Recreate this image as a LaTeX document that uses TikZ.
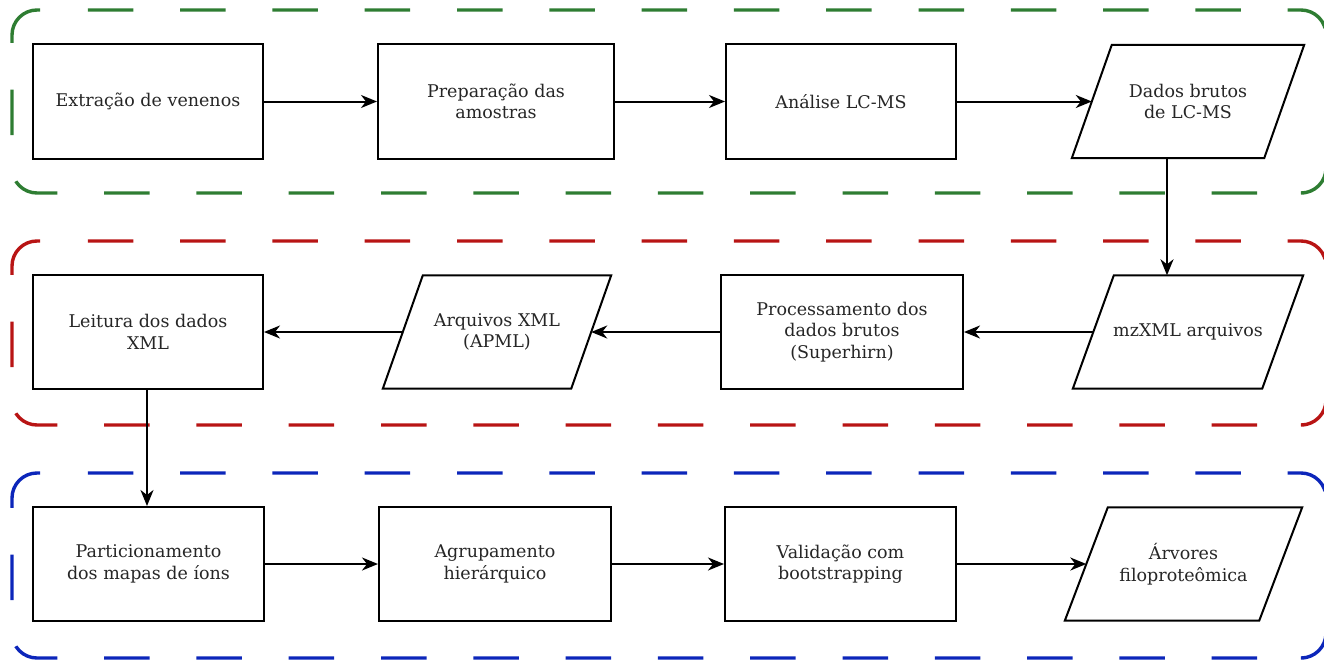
\documentclass[tikz,border=0pt]{standalone}
\usepackage{fontspec}
\setmainfont{DejaVu Serif}
\usetikzlibrary{arrows.meta,calc}
\definecolor{fgreen}{RGB}{46,125,50}
\definecolor{fred}{RGB}{184,20,20}
\definecolor{fblue}{RGB}{12,38,186}
\newcommand{\drawpara}[2]{\draw[shapeline] ($(#1.north west)+(#2,0)$) -- (#1.north east) -- ($(#1.south east)-(#2,0)$) -- (#1.south west) -- cycle;}
% dashed frame: #1 colour, #2 top, #3 bottom
\newcommand{\dframe}[3]{%
  \draw[framebase, #1, framedash] (1304,#3) -- (12,#3) -- (12,#2+33);
  \draw[framebase, #1] (12,#2+33) -- (12,#2) -- (40,#2);
  \draw[framebase, #1, framedash] (41,#2) -- (1326,#2) -- (1326,#2+60);
  \draw[framebase, #1] (1326,#3-40) -- (1326,#3) -- (1304,#3);
}
\begin{document}
\begin{tikzpicture}[x=1pt,y=-1pt,
  shapeline/.style={line width=2pt, black},
  txt/.style={align=center, inner sep=0pt, font=\fontsize{17.5}{21.5}\selectfont, text=black!85},
  box/.style={txt, draw=black, line width=2pt, minimum height=114pt},
  para/.style={txt, minimum height=113pt},
  arr/.style={line width=2pt, -{Stealth[length=16pt,width=13pt,inset=5pt]}},
  framebase/.style={line width=3.4pt, rounded corners=25pt},
  framedash/.style={dash pattern=on 45.5pt off 46.8pt, dash phase=45.5pt}
]
\useasboundingbox (0,0) rectangle (1324,661);
% frames
\dframe{fgreen}{10}{193}
\dframe{fred}{241}{425}
\dframe{fblue}{473}{658}
% row 1
\node[box, minimum width=230pt] (b1) at (148,101.5) {Extração de venenos};
\node[box, minimum width=236pt] (b2) at (496,101.5) {Preparação das\\amostras};
\node[box, minimum width=230pt] (b3) at (841,101.5) {Análise LC-MS};
\node[para, minimum width=232pt] (p1) at (1188,101.5) {Dados brutos\\de LC-MS};
\drawpara{p1}{40}
% row 2
\node[box, minimum width=230pt] (c1) at (148,332) {Leitura dos dados\\XML};
\node[para, minimum width=228pt] (q2) at (497,332) {Arquivos XML\\(APML)};
\drawpara{q2}{40}
\node[box, minimum width=242pt] (c3) at (842,332) {Processamento dos\\dados brutos\\(Superhirn)};
\node[para, minimum width=230pt] (q4) at (1188,332) {mzXML arquivos};
\drawpara{q4}{41}
% row 3
\node[box, minimum width=231pt] (d1) at (148.5,564) {Particionamento\\dos mapas de íons};
\node[box, minimum width=232pt] (d2) at (495,564) {Agrupamento\\hierárquico};
\node[box, minimum width=231pt] (d3) at (840.5,564) {Validação com\\bootstrapping};
\node[para, minimum width=237pt] (r4) at (1183.5,564) {Árvores\\filoproteômica};
\drawpara{r4}{43}
% connector end points on slanted edges
\coordinate (p1in) at ($(p1.west)+(20,0)$);
\coordinate (p1out) at ($(p1.south)-(21,0)$);
\coordinate (q4l) at ($(q4.west)+(20.5,0)$);
\coordinate (q2r) at ($(q2.east)-(20,0)$);
\coordinate (q2l) at ($(q2.west)+(20,0)$);
\coordinate (c1out) at ($(c1.south)-(1,0)$);
\coordinate (r4in) at ($(r4.west)+(21.5,0)$);
% connectors
\draw[arr] (b1.east) -- (b2.west);
\draw[arr] (b2.east) -- (b3.west);
\draw[arr] (b3.east) -- (p1in);
\draw[arr] (p1out) -- (p1out |- q4.north);
\draw[arr] (q4l) -- (c3.east);
\draw[arr] (c3.west) -- (q2r);
\draw[arr] (q2l) -- (c1.east);
\draw[arr] (c1out) -- (c1out |- d1.north);
\draw[arr] (d1.east) -- (d2.west);
\draw[arr] (d2.east) -- (d3.west);
\draw[arr] (d3.east) -- (r4in);
\end{tikzpicture}
\end{document}
